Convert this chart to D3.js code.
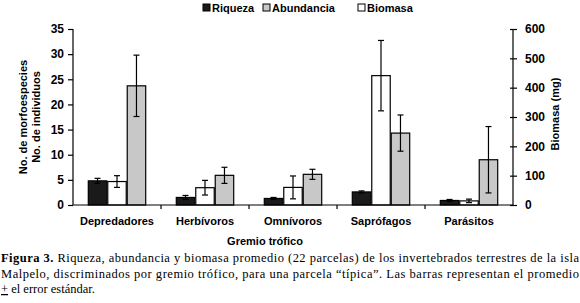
<!DOCTYPE html>
<html><head><meta charset="utf-8">
<script src="https://cdn.jsdelivr.net/npm/d3@7"></script>
<style>body{margin:0;background:#fff;} svg{display:block;}</style>
</head><body>
<svg id="chart" width="580" height="303"></svg>
<script>
const categories = ['Depredadores','Herbívoros','Omnívoros','Saprófagos','Parásitos'];
const riqueza = [4.8, 1.5, 1.3, 2.6, 0.9];
const riquezaErr = [0.5, 0.4, 0.2, 0.2, 0.2];
const abundancia = [23.7, 5.9, 6.1, 14.3, 9.0];
const abundanciaErr = [6.1, 1.6, 1.0, 3.6, 6.6];
const biomasa = [80, 59, 60, 441, 14];
const biomasaErr = [20, 25, 39, 120, 6];
const leftTicks = [0,5,10,15,20,25,30,35];
const rightTicks = [0,100,200,300,400,500,600];
const seriesNames = ['Riqueza','Abundancia','Biomasa'];
const barOrder = ['Riqueza','Biomasa','Abundancia'];
const colors = {Riqueza:'#1a1a1a', Abundancia:'#c8c8c8', Biomasa:'#ffffff'};

const svg = d3.select('#chart');
const x0 = 73, x1p = 513, yTop = 29, yBot = 205;
const x = d3.scaleBand().domain(categories).range([x0, x1p]).padding(0);
const xs = d3.scaleBand().domain(barOrder).range([0, x.bandwidth()]).paddingInner(0).paddingOuter(0.76);
const yL = d3.scaleLinear().domain([0,35]).range([yBot, yTop]);
const yR = d3.scaleLinear().domain([0,600]).range([yBot, yTop]);

const sans = 'Liberation Sans, Arial, sans-serif';

// bars
const rows = [];
categories.forEach((c,i)=>{
  rows.push({c, s:'Riqueza', v:riqueza[i], e:riquezaErr[i], y:yL});
  rows.push({c, s:'Biomasa', v:biomasa[i], e:biomasaErr[i], y:yR});
  rows.push({c, s:'Abundancia', v:abundancia[i], e:abundanciaErr[i], y:yL});
});
const g = svg.append('g');
g.selectAll('rect.bar').data(rows).join('rect')
  .attr('x', d=>x(d.c)+xs(d.s)+0.5)
  .attr('y', d=>d.y(d.v))
  .attr('width', xs.bandwidth()-1)
  .attr('height', d=>yBot-d.y(d.v))
  .attr('fill', d=>colors[d.s])
  .attr('stroke', '#000').attr('stroke-width', 1.2);
// error bars
const eb = g.selectAll('g.err').data(rows).join('g');
eb.append('line')
  .attr('x1', d=>x(d.c)+xs(d.s)+xs.bandwidth()/2).attr('x2', d=>x(d.c)+xs(d.s)+xs.bandwidth()/2)
  .attr('y1', d=>d.y(d.v+d.e)).attr('y2', d=>d.y(Math.max(0,d.v-d.e)))
  .attr('stroke','#000').attr('stroke-width',1.2);
[1,-1].forEach(sg=>{
  eb.append('line')
    .attr('x1', d=>x(d.c)+xs(d.s)+xs.bandwidth()/2-3).attr('x2', d=>x(d.c)+xs(d.s)+xs.bandwidth()/2+3)
    .attr('y1', d=>d.y(Math.max(0,d.v+sg*d.e))).attr('y2', d=>d.y(Math.max(0,d.v+sg*d.e)))
    .attr('stroke','#000').attr('stroke-width',1.2);
});

// axes
const axL = svg.append('g').attr('transform',`translate(${x0},0)`)
  .call(d3.axisLeft(yL).tickValues(leftTicks).tickSize(5).tickPadding(4));
const axR = svg.append('g').attr('transform',`translate(${x1p},0)`)
  .call(d3.axisRight(yR).tickValues(rightTicks).tickSize(4).tickPadding(8));
axR.selectAll('.tick line').attr('x1',-3);
const axB = svg.append('g').attr('transform',`translate(0,${yBot})`)
  .call(d3.axisBottom(x).tickSize(0).tickPadding(12));
// category boundary ticks
axB.selectAll('line.bnd').data(categories.slice(1)).join('line')
  .attr('x1', d=>x(d)).attr('x2', d=>x(d)).attr('y1',0).attr('y2',4)
  .attr('stroke','#000').attr('stroke-width',1.2);
[axL,axR,axB].forEach(a=>{
  a.selectAll('path.domain').attr('stroke','#000').attr('stroke-width',1.2);
  a.selectAll('.tick line').attr('stroke','#000').attr('stroke-width',1.2);
  a.selectAll('text').attr('font-family',sans).attr('font-size',12).attr('font-weight','bold').attr('fill','#000');
});
axL.select('path.domain').attr('d',`M0,${yTop}V${yBot}`);
axR.select('path.domain').attr('d',`M0,${yTop}V${yBot}`);
axB.select('path.domain').attr('d',`M${x0},0H${x1p}`);
axB.selectAll('.tick text').attr('font-size',11);

// axis titles
svg.append('text').attr('transform','translate(27,117) rotate(-90)').attr('text-anchor','middle')
  .attr('font-family',sans).attr('font-size',11).attr('font-weight','bold').text('No. de morfoespecies');
svg.append('text').attr('transform','translate(40,117) rotate(-90)').attr('text-anchor','middle')
  .attr('font-family',sans).attr('font-size',11).attr('font-weight','bold').text('No. de individuos');
svg.append('text').attr('transform','translate(559,114) rotate(-90)').attr('text-anchor','middle')
  .attr('font-family',sans).attr('font-size',11).attr('font-weight','bold').text('Biomasa (mg)');
svg.append('text').attr('x',265).attr('y',245).attr('text-anchor','middle')
  .attr('font-family',sans).attr('font-size',11).attr('font-weight','bold').text('Gremio trófico');

// legend
const legX = [203, 263, 358];
seriesNames.forEach((s,i)=>{
  svg.append('rect').attr('x',legX[i]).attr('y',4).attr('width',7).attr('height',7)
    .attr('fill',colors[s]).attr('stroke','#000').attr('stroke-width',1);
  svg.append('text').attr('x',legX[i]+9).attr('y',12).attr('font-family',sans)
    .attr('font-size',11).attr('font-weight','bold').text(s);
});

// caption
const serif = 'Liberation Serif, Times New Roman, serif';
const c1 = svg.append('text').attr('x',1).attr('y',262).attr('font-family',serif).attr('font-size',12.5)
  .attr('textLength',578).attr('lengthAdjust','spacing');
c1.append('tspan').attr('font-weight','bold').text('Figura 3.');
c1.append('tspan').text(' Riqueza, abundancia y biomasa promedio (22 parcelas) de los invertebrados terrestres de la isla');
svg.append('text').attr('x',1).attr('y',278).attr('font-family',serif).attr('font-size',12.5)
  .attr('textLength',578).attr('lengthAdjust','spacing')
  .text('Malpelo, discriminados por gremio trófico, para una parcela “típica”. Las barras representan el promedio');
const c3 = svg.append('text').attr('x',1).attr('y',293).attr('font-family',serif).attr('font-size',12.5);
c3.append('tspan').attr('text-decoration','underline').text('+');
c3.append('tspan').text(' el error estándar.');
</script>
</body></html>
